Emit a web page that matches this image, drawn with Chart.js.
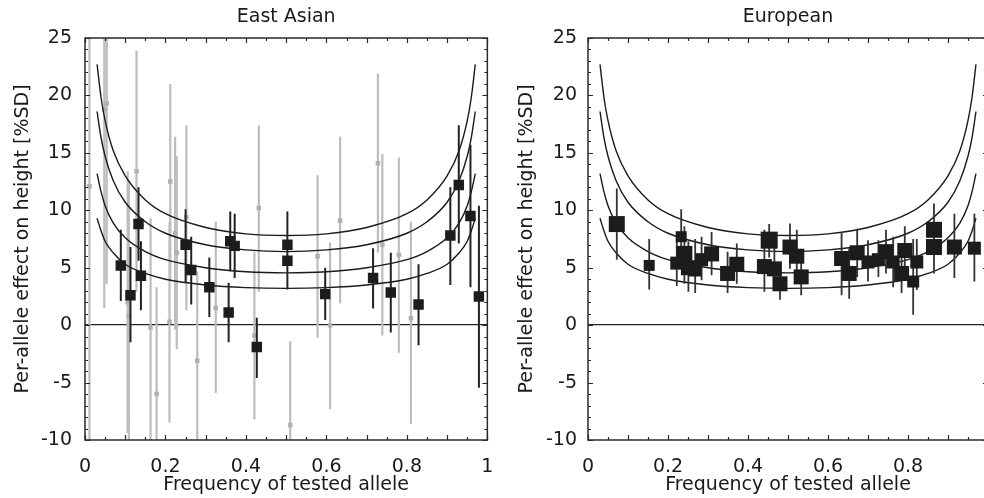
<!DOCTYPE html>
<html lang="en">
<head>
<meta charset="UTF-8">
<title>Per-allele effect vs allele frequency</title>
<script src="https://cdn.jsdelivr.net/npm/chart.js"></script>
<style>
  html, body { margin: 0; padding: 0; background: #fff; overflow: hidden; }
  body { width: 984px; height: 498px; position: relative; }
  canvas { position: absolute; top: 0; }
  #eastAsian { left: 0; }
  #european { left: 492px; }
</style>
</head>
<body>
<canvas id="eastAsian" width="501" height="498"></canvas>
<canvas id="european" width="508" height="498"></canvas>
<script>
// ---- data ----
const yTicks = [-10, -5, 0, 5, 10, 15, 20, 25];
const eaXTicks = [0, 0.2, 0.4, 0.6, 0.8, 1];
const euXTicks = [0, 0.2, 0.4, 0.6, 0.8];

// East Asian, black (replicated) loci
const eaBlackFreq   = [0.089, 0.113, 0.133, 0.139, 0.25, 0.264, 0.309, 0.357, 0.361, 0.372, 0.427, 0.503, 0.503, 0.597, 0.716, 0.76, 0.829, 0.908, 0.929, 0.958, 0.979];
const eaBlackEffect = [5.2, 2.6, 8.8, 4.3, 7.0, 4.8, 3.3, 1.1, 7.3, 6.9, -1.9, 7.0, 5.6, 2.7, 4.1, 2.85, 1.8, 7.8, 12.2, 9.5, 2.5];
const eaBlackLow    = [2.1, -1.5, 5.6, 1.3, 3.7, 1.8, 0.7, -1.5, 4.7, 4.1, -4.6, 4.2, 3.1, 0.45, 1.45, -0.65, -1.75, 3.5, 7.1, 3.3, -5.45];
const eaBlackHigh   = [8.3, 6.8, 12.0, 7.3, 10.1, 7.7, 5.9, 3.7, 9.9, 9.7, 0.65, 9.9, 8.1, 5.0, 6.7, 6.3, 5.3, 12.0, 17.4, 15.7, 10.4];

// East Asian, grey loci
const eaGreyFreq   = [0.011, 0.048, 0.054, 0.106, 0.109, 0.128, 0.163, 0.178, 0.210, 0.212, 0.224, 0.228, 0.252, 0.279, 0.325, 0.421, 0.432, 0.51, 0.578, 0.609, 0.634, 0.728, 0.739, 0.78, 0.81];
const eaGreyEffect = [12.1, 18.8, 19.3, 2.0, 0.8, 13.4, -0.2, -6.0, 0.3, 12.5, 8.0, 6.3, 9.4, -3.1, 1.5, -0.9, 10.2, -8.7, 6.0, 0.0, 9.1, 14.1, 7.0, 6.1, 0.6];
const eaGreyLow    = [-11, 1.5, 3.6, -9.4, -11, 2.9, -10.5, -15.3, -8.5, 4.0, -0.4, -2.1, 1.3, -10.9, -5.9, -8.2, 2.9, -16, -1.1, -7.3, 1.9, 6.3, -0.9, -2.4, -8.6];
const eaGreyHigh   = [30, 30, 30, 13.4, 12.6, 23.9, 9.3, 3.3, 9.0, 21.0, 16.4, 14.7, 17.4, 4.7, 9.0, 6.4, 17.4, -1.4, 13.05, 7.2, 16.4, 21.9, 14.9, 14.6, 9.0];

// European loci (weight = relative marker size)
const euFreq   = [0.072, 0.153, 0.222, 0.233, 0.241, 0.251, 0.268, 0.284, 0.309, 0.349, 0.372, 0.441, 0.453, 0.466, 0.48, 0.505, 0.522, 0.533, 0.634, 0.653, 0.673, 0.70, 0.726, 0.745, 0.763, 0.784, 0.792, 0.813, 0.822, 0.865, 0.865, 0.916, 0.966];
const euEffect = [8.8, 5.2, 5.4, 7.7, 6.2, 5.0, 4.8, 5.7, 6.2, 4.5, 5.3, 5.1, 7.4, 4.9, 3.6, 6.8, 6.0, 4.2, 5.8, 4.5, 6.3, 5.5, 5.7, 6.4, 5.5, 4.5, 6.5, 3.8, 5.5, 8.3, 6.8, 6.8, 6.7];
const euLow    = [5.7, 3.1, 3.4, 5.3, 3.6, 2.9, 2.8, 3.9, 4.35, 2.8, 3.6, 2.9, 5.9, 3.0, 2.2, 4.9, 4.0, 2.6, 2.6, 2.3, 4.2, 3.8, 4.2, 4.5, 3.3, 2.8, 4.4, 0.9, 3.05, 6.0, 4.5, 4.1, 3.8];
const euHigh   = [11.9, 7.5, 7.4, 10.1, 8.6, 7.3, 7.5, 7.7, 8.1, 6.4, 7.1, 8.3, 8.8, 6.8, 5.1, 8.85, 8.3, 5.9, 8.1, 6.7, 8.4, 7.4, 7.4, 8.3, 7.7, 6.3, 8.6, 7.5, 7.5, 10.6, 9.0, 9.7, 9.7];
const euWeight = [1.6, 1.1, 1.3, 1.1, 1.6, 1.5, 1.3, 1.3, 1.5, 1.5, 1.5, 1.5, 1.7, 1.5, 1.5, 1.5, 1.5, 1.5, 1.5, 1.5, 1.5, 1.3, 1.3, 1.5, 1.3, 1.5, 1.5, 1.2, 1.3, 1.6, 1.6, 1.5, 1.3];

// power curves (same in both panels)
const curveFreq = [0.03, 0.04, 0.05, 0.07, 0.1, 0.15, 0.2, 0.3, 0.4, 0.5, 0.6, 0.7, 0.8, 0.85, 0.9, 0.93, 0.95, 0.96, 0.97];
const curve1 = [22.7, 19.8, 17.8, 15.2, 13.0, 10.9, 9.7, 8.5, 7.95, 7.8, 7.95, 8.5, 9.7, 10.9, 13.0, 15.2, 17.8, 19.8, 22.7];
const curve2 = [18.6, 16.3, 14.7, 12.6, 10.7, 9.0, 8.0, 7.0, 6.55, 6.4, 6.55, 7.0, 8.0, 9.0, 10.7, 12.6, 14.7, 16.3, 18.6];
const curve3 = [13.2, 11.6, 10.4, 8.9, 7.6, 6.4, 5.7, 5.0, 4.65, 4.55, 4.65, 5.0, 5.7, 6.4, 7.6, 8.9, 10.4, 11.6, 13.2];
const curve4 = [9.3, 8.2, 7.3, 6.3, 5.3, 4.5, 4.0, 3.5, 3.27, 3.2, 3.27, 3.5, 4.0, 4.5, 5.3, 6.3, 7.3, 8.2, 9.3];

// ---- helpers ----
Chart.defaults.font.family = "'DejaVu Sans', sans-serif";
Chart.defaults.font.size = 19;
Chart.defaults.color = '#1a1a1a';

function points(xs, ys) {
  return xs.map((x, i) => ({x: x, y: ys[i]}));
}

// vertical segments, separated by gaps
function errorBars(xs, lo, hi) {
  const out = [];
  xs.forEach((x, i) => {
    out.push({x: x, y: lo[i]}, {x: x, y: hi[i]}, {x: x, y: null});
  });
  return out;
}

function barSet(data, color, width) {
  return {
    type: 'line', data: data, showLine: true, spanGaps: false,
    borderColor: color, borderWidth: width, pointRadius: 0, fill: false
  };
}

function curveSets() {
  return [curve1, curve2, curve3, curve4].map(vals => ({
    type: 'line', data: points(curveFreq, vals), showLine: true,
    borderColor: '#1a1a1a', borderWidth: 1.4, pointRadius: 0,
    cubicInterpolationMode: 'monotone', fill: false
  }));
}

// box frame + inward minor/major ticks
const frameTicks = {
  id: 'frameTicks',
  afterDraw(chart) {
    const {ctx, chartArea: a, scales: {x, y}} = chart;
    ctx.save();
    ctx.strokeStyle = '#2a2a2a';
    ctx.lineWidth = 1.2;
    ctx.beginPath();
    for (let v = Math.ceil(x.min * 20); v <= Math.floor(x.max * 20 + 1e-6); v++) {
      const px = Math.round(x.getPixelForValue(v / 20)) + 0.5;
      const len = v % 2 === 0 ? 5 : 3;
      ctx.moveTo(px, a.bottom); ctx.lineTo(px, a.bottom - len);
      ctx.moveTo(px, a.top); ctx.lineTo(px, a.top + len);
    }
    for (let v = Math.ceil(y.min); v <= y.max; v++) {
      const py = Math.round(y.getPixelForValue(v)) + 0.5;
      const len = v % 5 === 0 ? 5 : 3;
      ctx.moveTo(a.left, py); ctx.lineTo(a.left + len, py);
      ctx.moveTo(a.right, py); ctx.lineTo(a.right - len, py);
    }
    ctx.stroke();
    ctx.lineWidth = 1.5;
    ctx.strokeRect(a.left, a.top, a.right - a.left, a.bottom - a.top);
    ctx.restore();
  }
};

function panel(id, title, datasets, o) {
  return new Chart(document.getElementById(id), {
    type: 'scatter',
    data: { datasets: datasets },
    options: {
      responsive: false,
      animation: false,
      events: [],
      layout: { padding: { top: 0, right: o.padRight, bottom: 0, left: 0 } },
      plugins: {
        legend: { display: false },
        tooltip: { enabled: false },
        title: {
          display: true, text: title, fullSize: false,
          font: { size: 19, weight: 'normal' }, color: '#1a1a1a',
          padding: { top: 6, bottom: 9.2 }
        }
      },
      scales: {
        x: {
          type: 'linear', min: 0, max: 1,
          grid: { display: false },
          border: { display: false },
          afterBuildTicks: s => { s.ticks = o.xTicks.map(v => ({ value: v })); },
          afterFit: s => { s.height = 58; },
          ticks: { padding: 7.6, maxRotation: 0, callback: v => String(+v.toFixed(1)) },
          title: { display: true, text: 'Frequency of tested allele', padding: { top: 0, bottom: 1.6 } }
        },
        y: {
          type: 'linear', min: -10, max: 25,
          grid: {
            drawTicks: false, lineWidth: 1.3,
            color: c => (c.tick && c.tick.value === 0) ? '#222' : 'rgba(0,0,0,0)'
          },
          border: { display: false },
          afterBuildTicks: s => { s.ticks = yTicks.map(v => ({ value: v })); },
          afterFit: s => { s.width = o.yWidth; },
          ticks: { padding: o.yTickPad },
          title: { display: true, text: 'Per-allele effect on height [%SD]', padding: { top: o.yTitlePad, bottom: 0 } }
        }
      }
    },
    plugins: [frameTicks]
  });
}

// East Asian panel (first dataset drawn on top)
panel('eastAsian', 'East Asian', [
  { data: points(eaBlackFreq, eaBlackEffect), pointStyle: 'rect', pointRadius: 7.4, backgroundColor: '#1c1c1c', borderWidth: 0 },
  barSet(errorBars(eaBlackFreq, eaBlackLow, eaBlackHigh), '#222', 2),
  ...curveSets(),
  { data: points(eaGreyFreq, eaGreyEffect), pointStyle: 'rect', pointRadius: 3.2, backgroundColor: '#b0b0b0', borderWidth: 0 },
  barSet(errorBars(eaGreyFreq, eaGreyLow, eaGreyHigh), '#bdbdbd', 2.2)
], { xTicks: eaXTicks, yWidth: 85, yTickPad: 13, yTitlePad: 11.6, padRight: 7 });

// European panel
panel('european', 'European', [
  { data: points(euFreq, euEffect), pointStyle: 'rect',
    pointRadius: c => euWeight[c.dataIndex] * 10 / Math.SQRT2,
    backgroundColor: '#1c1c1c', borderWidth: 0 },
  barSet(errorBars(euFreq, euLow, euHigh), '#333', 1.8),
  ...curveSets()
], { xTicks: euXTicks, yWidth: 96, yTickPad: 11, yTitlePad: 23.6, padRight: 12 });
</script>
</body>
</html>
